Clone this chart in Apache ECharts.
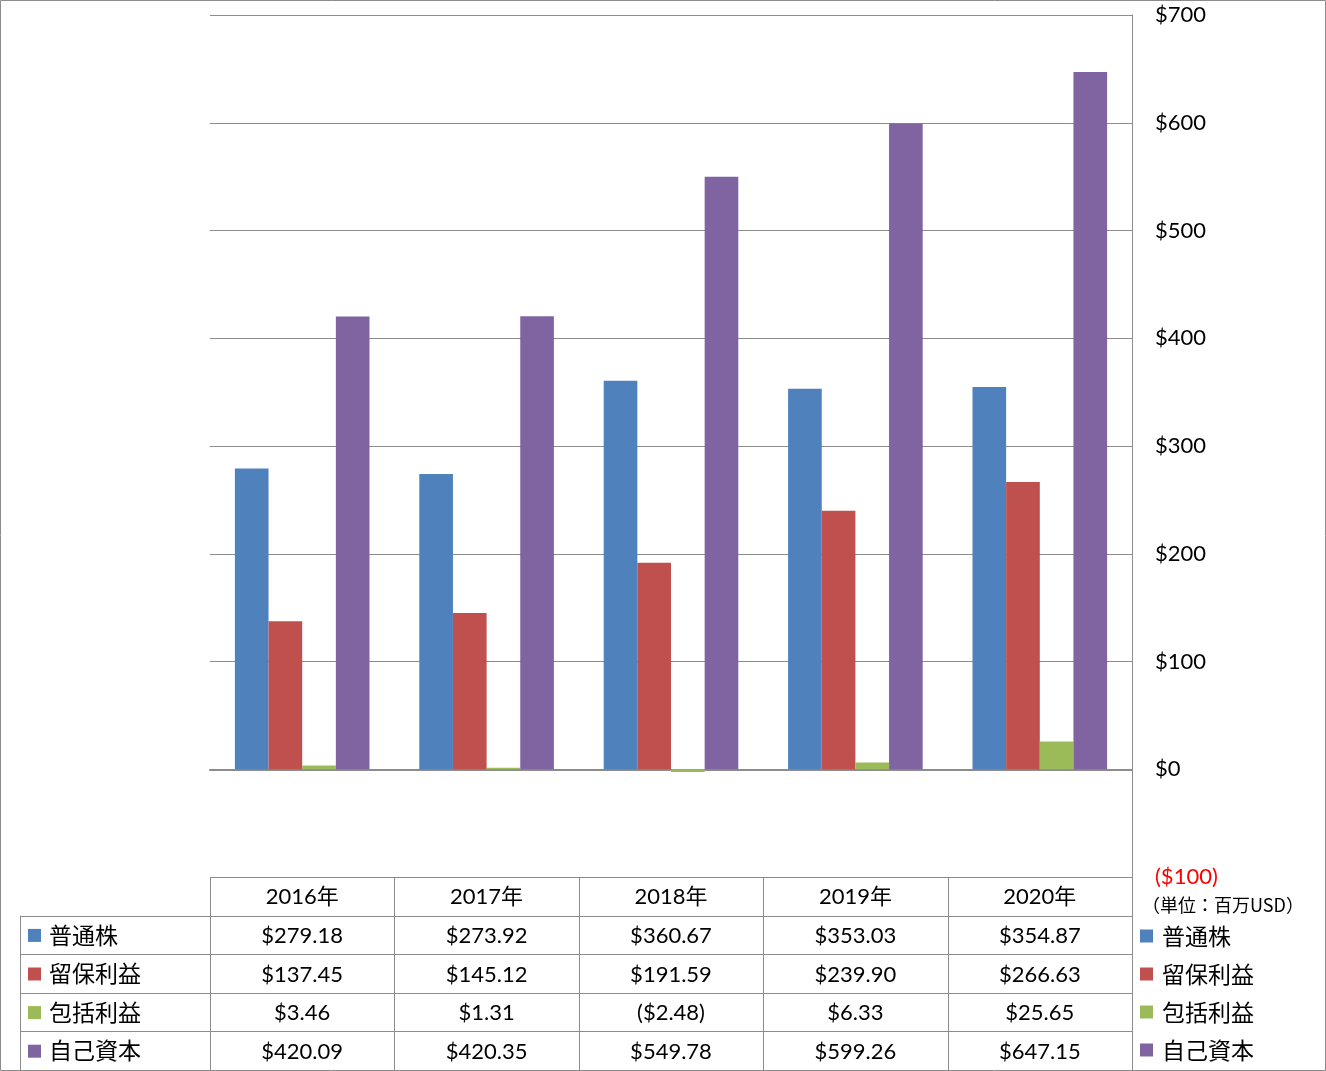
<!DOCTYPE html>
<html><head><meta charset="utf-8">
<script src="https://cdn.jsdelivr.net/npm/echarts@6/dist/echarts.min.js"></script>
<style>html,body{margin:0;padding:0;background:#fff}#c{width:1326px;height:1071px}</style>
</head><body><div id="c"></div>
<script>
const categories = ['2016年','2017年','2018年','2019年','2020年'];
const seriesNames = ['普通株','留保利益','包括利益','自己資本'];
const commonStock = [279.18, 273.92, 360.67, 353.03, 354.87];
const retainedEarnings = [137.45, 145.12, 191.59, 239.90, 266.63];
const comprehensiveIncome = [3.46, 1.31, -2.48, 6.33, 25.65];
const equity = [420.09, 420.35, 549.78, 599.26, 647.15];
const yTicks = [-100, 0, 100, 200, 300, 400, 500, 600, 700];
const unitLabel = '（単位：百万USD）';

const colors = ['#4F81BD','#C0504D','#9BBB59','#8064A2'];
const allData = [commonStock, retainedEarnings, comprehensiveIncome, equity];
const FONT = 'Lato, "Noto Sans CJK JP", sans-serif';
const CJK = '"Noto Sans CJK JP", sans-serif';
const LINE = '#8c8c8c';

function fmt(v){
  const s = '$' + Math.abs(v).toFixed(2);
  return v < 0 ? '(' + s + ')' : s;
}

const chart = echarts.init(document.getElementById('c'));
const G = {left:210, top:15, right:194, bottom:194};
chart.setOption({
  animation:false,
  color: colors,
  textStyle:{fontFamily:FONT},
  grid:{left:G.left, top:G.top, right:G.right, bottom:G.bottom, containLabel:false},
  legend:{
    orient:'vertical', left:1140, top:924, padding:0, height:160, itemWidth:13, itemHeight:13, itemGap:14,
    icon:'rect', textStyle:{fontSize:23, lineHeight:24, color:'#000', fontFamily:CJK, padding:[0,0,0,4]},
    data: seriesNames
  },
  xAxis:{type:'category', data:categories,
    axisLine:{lineStyle:{color:LINE, width:2}}, axisTick:{show:false}, axisLabel:{show:false}},
  yAxis:{type:'value', position:'right', min:yTicks[0], max:yTicks[yTicks.length-1], interval:100,
    axisLine:{show:true, lineStyle:{color:LINE}}, axisTick:{show:false},
    splitLine:{lineStyle:{color:LINE}},
    axisLabel:{margin:23, fontSize:22, fontFamily:FONT,
      formatter:v => v < 0 ? '($' + Math.abs(v) + ')' : '$' + v,
      color: v => (v < 0 ? '#ff0000' : '#000')}
  },
  series: seriesNames.map((n,i)=>({
    name:n, type:'bar', data:allData[i], barGap:'0%', barCategoryGap:'27%',
    itemStyle:{color:colors[i]}
  }))
});

function drawTable(){
  const W = chart.getWidth(), H = chart.getHeight();
  const x0 = G.left, x1 = W - G.right, yTop = H - G.bottom;
  const rowH = (H - 1 - yTop) / 5;
  const colW = (x1 - x0) / categories.length;
  const els = [];
  const line = (ax,ay,bx,by)=>els.push({type:'line', silent:true, z:10,
    shape:{x1:ax,y1:ay,x2:bx,y2:by}, style:{stroke:LINE, lineWidth:1}});
  els.push({type:'rect', silent:true, z:10, shape:{x:0.5,y:0.5,width:W-1,height:H-1},
    style:{fill:null, stroke:LINE, lineWidth:1}});
  for (let c=0;c<=categories.length;c++){
    const x = Math.round(x0 + c*colW) + 0.5;
    line(x, yTop, x, H-1);
  }
  line(20.5, yTop+rowH, 20.5, H-1);
  for (let r=1;r<=4;r++){
    const y = Math.round(yTop + r*rowH) + 0.5;
    line(20, y, x1, y);
  }
  categories.forEach((c,i)=>{
    const cx = chart.convertToPixel({xAxisIndex:0}, c);
    els.push({type:'text', silent:true, z:11, style:{text:c, x:cx, y:yTop+rowH/2+1,
      align:'center', verticalAlign:'middle', fontSize:22, fontFamily:FONT, fill:'#000'}});
  });
  seriesNames.forEach((n,r)=>{
    const cy = yTop + (r+1)*rowH + rowH/2 + 1;
    els.push({type:'rect', silent:true, z:11, shape:{x:28, y:cy-7, width:13, height:13}, style:{fill:colors[r]}});
    els.push({type:'text', silent:true, z:11, style:{text:n, x:49, y:cy-1, align:'left', verticalAlign:'middle',
      fontSize:23, fontFamily:CJK, fill:'#000'}});
    allData[r].forEach((v,i)=>{
      const cx = chart.convertToPixel({xAxisIndex:0}, categories[i]);
      els.push({type:'text', silent:true, z:11, style:{text:fmt(v), x:cx, y:cy, align:'center', verticalAlign:'middle',
        fontSize:22, fontFamily:FONT, fill:'#000'}});
    });
  });
  els.push({type:'text', silent:true, z:11, style:{text:unitLabel, x:1142, y:905, align:'left', verticalAlign:'middle',
    fontSize:18, fontFamily:CJK, fill:'#000'}});
  chart.setOption({graphic:{elements:els}});
}
drawTable();
</script></body></html>
